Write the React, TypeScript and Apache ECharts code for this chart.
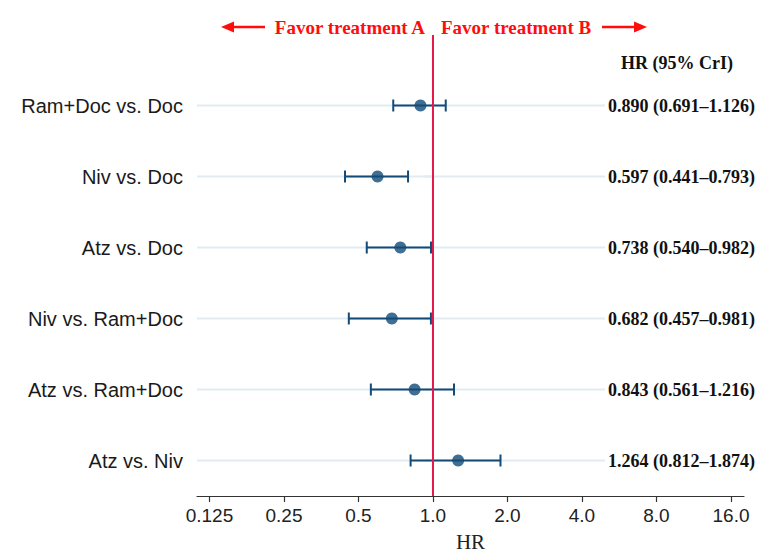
import React, { useEffect, useRef } from "react";
import * as echarts from "echarts";

const categories = [
  "Ram+Doc vs. Doc",
  "Niv vs. Doc",
  "Atz vs. Doc",
  "Niv vs. Ram+Doc",
  "Atz vs. Ram+Doc",
  "Atz vs. Niv",
];
const hrValues = [0.89, 0.597, 0.738, 0.682, 0.843, 1.264];
const lowerCI = [0.691, 0.441, 0.54, 0.457, 0.561, 0.812];
const upperCI = [1.126, 0.793, 0.982, 0.981, 1.216, 1.874];
const tickValues = [0.125, 0.25, 0.5, 1, 2, 4, 8, 16];
const tickLabels = ["0.125", "0.25", "0.5", "1.0", "2.0", "4.0", "8.0", "16.0"];
const axisMinHR = 0.1113;
const axisMaxHR = 18.06;
const referenceHR = 1;

const NAVY = "#124b78";
const RED = "#ff0d0d";
const REFLINE = "#e3184b";
const RIGHT_LABEL_OFFSET = 137;

const log2 = (v: number) => Math.log2(v);

export default function App() {
  const ref = useRef<HTMLDivElement>(null);

  useEffect(() => {
    document.body.style.margin = "0";
    if (!ref.current) return;
    const chart = echarts.init(ref.current, null, { renderer: "svg" });

    const rightLabels = hrValues.map(
      (v, i) => `${v.toFixed(3)} (${lowerCI[i].toFixed(3)}–${upperCI[i].toFixed(3)})`
    );
    const tickLogs = tickValues.map(log2);

    const option: any = {
      animation: false,
      backgroundColor: "#ffffff",
      grid: {
        left: 197,
        right: 14,
        top: 70,
        bottom: 56,
        containLabel: false,
        outerBoundsMode: "none",
      },
      xAxis: {
        type: "value",
        min: log2(axisMinHR),
        max: log2(axisMaxHR),
        splitLine: { show: false },
        axisLine: { show: true, lineStyle: { color: "#333", width: 1.2 } },
        axisTick: {
          show: true,
          length: 6,
          lineStyle: { color: "#333", width: 1.2 },
          customValues: tickLogs,
        },
        axisLabel: {
          customValues: tickLogs,
          color: "#222",
          fontFamily: "Liberation Sans, Arial, sans-serif",
          fontSize: 19,
          margin: 10,
          formatter: (val: number) => {
            const idx = tickLogs.findIndex((t) => Math.abs(t - val) < 1e-6);
            return idx >= 0 ? tickLabels[idx] : "";
          },
        },
        name: "HR",
        nameLocation: "middle",
        nameGap: 35,
        nameTextStyle: {
          fontFamily: "Liberation Serif, Times New Roman, serif",
          fontSize: 21,
          color: "#222",
          verticalAlign: "top",
          lineHeight: 21,
        },
      },
      yAxis: [
        {
          type: "category",
          data: categories,
          inverse: true,
          axisLine: { show: false },
          axisTick: {
            show: true,
            alignWithLabel: true,
            length: 8,
            lineStyle: { color: "#666", width: 1.2 },
          },
          splitLine: { show: false },
          axisLabel: {
            color: "#1a1a1a",
            fontFamily: "Liberation Sans, Arial, sans-serif",
            fontSize: 20,
            margin: 14,
          },
        },
        {
          type: "category",
          data: rightLabels,
          inverse: true,
          position: "right",
          offset: -RIGHT_LABEL_OFFSET,
          axisLine: { show: false },
          axisTick: { show: false },
          splitLine: { show: false },
          axisLabel: {
            color: "#111",
            fontFamily: "Liberation Serif, Times New Roman, serif",
            fontWeight: "bold",
            fontSize: 18,
            margin: 1,
            align: "left",
          },
        },
      ],
      series: [
        {
          type: "custom",
          name: "gridlines",
          z: 1,
          silent: true,
          data: categories.map((_, i) => [0, i]),
          encode: { x: 0, y: 1 },
          renderItem: (params: any, api: any) => {
            const p = api.coord([0, api.value(1)]);
            const cs = params.coordSys;
            return {
              type: "line",
              shape: {
                x1: cs.x,
                y1: p[1],
                x2: cs.x + cs.width - RIGHT_LABEL_OFFSET - 2,
                y2: p[1],
              },
              style: { stroke: "#e2ebf1", lineWidth: 2 },
            };
          },
        },
        {
          type: "custom",
          name: "CrI",
          z: 3,
          data: categories.map((_, i) => [log2(lowerCI[i]), log2(upperCI[i]), i]),
          encode: { x: [0, 1], y: 2 },
          renderItem: (params: any, api: any) => {
            const a = api.coord([api.value(0), api.value(2)]);
            const b = api.coord([api.value(1), api.value(2)]);
            const h = 6;
            const st = { stroke: NAVY, lineWidth: 2 };
            return {
              type: "group",
              children: [
                { type: "line", shape: { x1: a[0], y1: a[1], x2: b[0], y2: b[1] }, style: st },
                { type: "line", shape: { x1: a[0], y1: a[1] - h, x2: a[0], y2: a[1] + h }, style: st },
                { type: "line", shape: { x1: b[0], y1: b[1] - h, x2: b[0], y2: b[1] + h }, style: st },
              ],
            };
          },
        },
        {
          type: "scatter",
          name: "HR",
          z: 4,
          symbol: "circle",
          symbolSize: 12,
          itemStyle: { color: NAVY },
          data: hrValues.map((v, i) => [log2(v), i]),
        },
      ],
    };

    chart.setOption(option);

    const px = chart.convertToPixel({ xAxisIndex: 0 }, log2(referenceHR)) as number;
    const yTop = 35;
    const yBottom = 496;
    const ay = 27;
    chart.setOption({
      graphic: [
        {
          type: "line",
          z: 10,
          shape: { x1: px, y1: yTop, x2: px, y2: yBottom },
          style: { stroke: REFLINE, lineWidth: 2 },
        },
        {
          type: "text",
          z: 10,
          x: px - 8,
          y: ay,
          style: {
            text: "Favor treatment A",
            fill: RED,
            font: "bold 19px 'Liberation Serif', 'Times New Roman', serif",
            align: "right",
            verticalAlign: "middle",
          },
        },
        {
          type: "text",
          z: 10,
          x: px + 8,
          y: ay,
          style: {
            text: "Favor treatment B",
            fill: RED,
            font: "bold 19px 'Liberation Serif', 'Times New Roman', serif",
            align: "left",
            verticalAlign: "middle",
          },
        },
        {
          type: "line",
          z: 10,
          shape: { x1: 231, y1: ay, x2: 265, y2: ay },
          style: { stroke: RED, lineWidth: 2.5 },
        },
        {
          type: "polygon",
          z: 10,
          shape: { points: [[221, ay], [234, ay - 5.5], [234, ay + 5.5]] },
          style: { fill: RED },
        },
        {
          type: "line",
          z: 10,
          shape: { x1: 602, y1: ay, x2: 637, y2: ay },
          style: { stroke: RED, lineWidth: 2.5 },
        },
        {
          type: "polygon",
          z: 10,
          shape: { points: [[647, ay], [634, ay - 5.5], [634, ay + 5.5]] },
          style: { fill: RED },
        },
        {
          type: "text",
          z: 10,
          x: 677,
          y: 63,
          style: {
            text: "HR (95% CrI)",
            fill: "#111",
            font: "bold 18px 'Liberation Serif', 'Times New Roman', serif",
            align: "center",
            verticalAlign: "middle",
          },
        },
      ],
    });

    return () => {
      chart.dispose();
    };
  }, []);

  return <div ref={ref} style={{ width: 758, height: 552 }} />;
}
